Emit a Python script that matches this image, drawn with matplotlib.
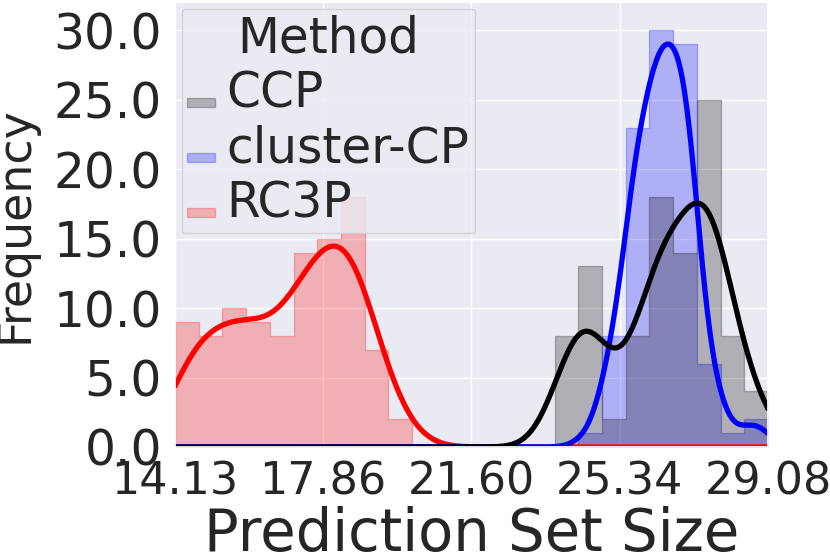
import math
import numpy as np
import matplotlib
matplotlib.use("Agg")
import matplotlib.pyplot as plt
import seaborn as sns
from matplotlib.patches import Patch
from matplotlib.ticker import FormatStrFormatter, MultipleLocator

# ---- data ----
methods = ["CCP", "cluster-CP", "RC3P"]
colors = ["black", "blue", "red"]
x_min, x_max, n_bins = 14.13, 29.08, 25

ccp_counts = [0, 0, 0, 0, 0, 0, 0, 0, 0, 0, 0, 0, 0, 0, 0, 0,
              8, 13, 2, 8, 18, 14, 25, 8, 4]
cluster_counts = [0, 0, 0, 0, 0, 0, 0, 0, 0, 0, 0, 0, 0, 0, 0, 0,
                  0, 1, 8, 23, 30, 29, 6, 1, 2]
rc3p_counts = [9, 8, 10, 9, 8, 14, 15, 18, 7, 2, 0, 0, 0, 0, 0, 0,
               0, 0, 0, 0, 0, 0, 0, 0, 0]

xtick_values = [14.13, 17.86, 21.60, 25.34, 29.08]
xtick_labels = ["14.13", "17.86", "21.60", "25.34", "29.08"]

sns.set_theme(style="darkgrid")
plt.rcParams['font.family'] = ['DejaVu Sans']

edges = np.linspace(x_min, x_max, n_bins + 1)
centers = (edges[:-1] + edges[1:]) / 2
bin_w = edges[1] - edges[0]
grid = np.linspace(x_min, x_max, 500)
erf = np.frompyfunc(math.erf, 1, 1)


def kde_counts(counts):
    # gaussian kde (scott bandwidth) of the binned values, each bin spread
    # evenly over its width, scaled to counts like seaborn does
    c = np.asarray(counts, dtype=float)
    n = c.sum()
    mean = (c * centers).sum() / n
    var = (c * (centers - mean) ** 2).sum() / n + bin_w ** 2 / 12
    bw = np.sqrt(var) * n ** (-1 / 5)
    lo = (grid[:, None] - edges[None, :-1]) / (bw * np.sqrt(2))
    hi = (grid[:, None] - edges[None, 1:]) / (bw * np.sqrt(2))
    part = 0.5 * (erf(lo).astype(float) - erf(hi).astype(float)) / bin_w
    dens = (c[None, :] * part).sum(axis=1) / n
    return dens * n * bin_w


fig = plt.figure(figsize=(8.3, 5.55), dpi=100)
ax = fig.add_axes([0.2108, 0.1946, 0.7145, 0.8018])

all_counts = [ccp_counts, cluster_counts, rc3p_counts]
# seaborn draws hue levels in reverse order
for name, col, counts in reversed(list(zip(methods, colors, all_counts))):
    vals = np.append(counts, counts[-1])
    ax.fill_between(edges, vals, step="post", color=col, alpha=0.25, lw=1)
    ax.plot(grid, kde_counts(counts), color=col, lw=3.8)

ax.set_xlim(x_min, x_max)
ax.set_ylim(0, 32.05)
ax.set_xticks(xtick_values)
ax.set_xticklabels(xtick_labels, fontsize=32)
ax.yaxis.set_major_locator(MultipleLocator(5))
ax.yaxis.set_major_formatter(FormatStrFormatter('%.1f'))
ax.tick_params(axis='y', labelsize=35)
ax.set_xlabel("Prediction Set Size", fontsize=41.5, labelpad=2)
ax.set_ylabel("Frequency", fontsize=33, labelpad=11)

handles = [Patch(facecolor=c, edgecolor=c, alpha=0.25, lw=1) for c in colors]
leg = ax.legend(handles, methods, title="Method", loc="upper left", fontsize=10)
for t in leg.get_texts():
    t.set_fontsize(35)
leg.get_title().set_fontsize(35)

fig.savefig("out.png", dpi=100)
